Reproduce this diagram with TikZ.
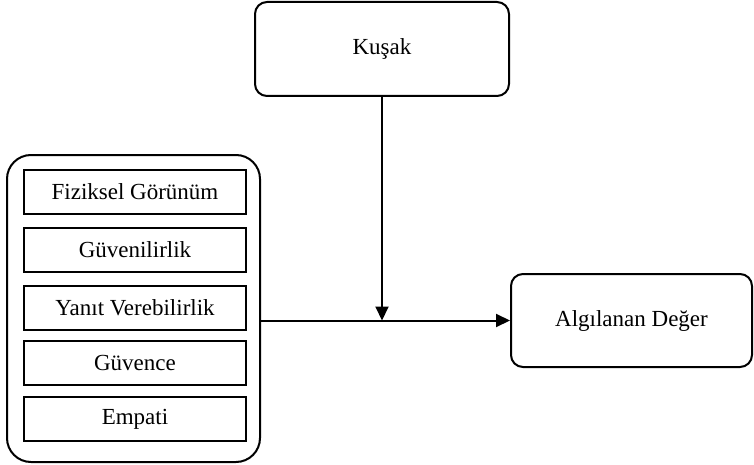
\documentclass[tikz,border=0pt]{standalone}
\usepackage{fontspec}
\setmainfont{Liberation Serif}
\usetikzlibrary{arrows.meta}

\begin{document}
\begin{tikzpicture}[x=0.5pt,y=-0.5pt,-{Triangle[length=7pt,width=6.5pt]},
        line width=1pt,
        main node/.style={rectangle,rounded corners=6pt,draw=black,font=\fontsize{11.5}{13}\selectfont},
        item node/.style={rectangle,draw=black,minimum width=111pt,minimum height=22pt,font=\fontsize{11.5}{13}\selectfont}]

    \useasboundingbox (0,0) rectangle (754,465);

    \node[main node, minimum width=127pt, minimum height=47pt] (0) at (382,49) {Kuşak};
    \node[main node, rounded corners=12pt, minimum width=126.5pt, minimum height=153.5pt] (1) at (133.5,308.5) {};
    \node[main node, minimum width=120.5pt, minimum height=46.5pt] (2) at (631.5,320.5) {Algılanan Değer};

    \node[item node] (3) at (135,192) {Fiziksel Görünüm};
    \node[item node] (4) at (135,249.5) {Güvenilirlik};
    \node[item node] (5) at (135,307.5) {Yanıt Verebilirlik};
    \node[item node] (6) at (135,363) {Güvence};
    \node[item node] (7) at (135,419) {Empati};

    \path
    (1.east |- 2.west) edge (2.west)
    (0.south) edge (0.south |- 2.west);

\end{tikzpicture}
\end{document}
